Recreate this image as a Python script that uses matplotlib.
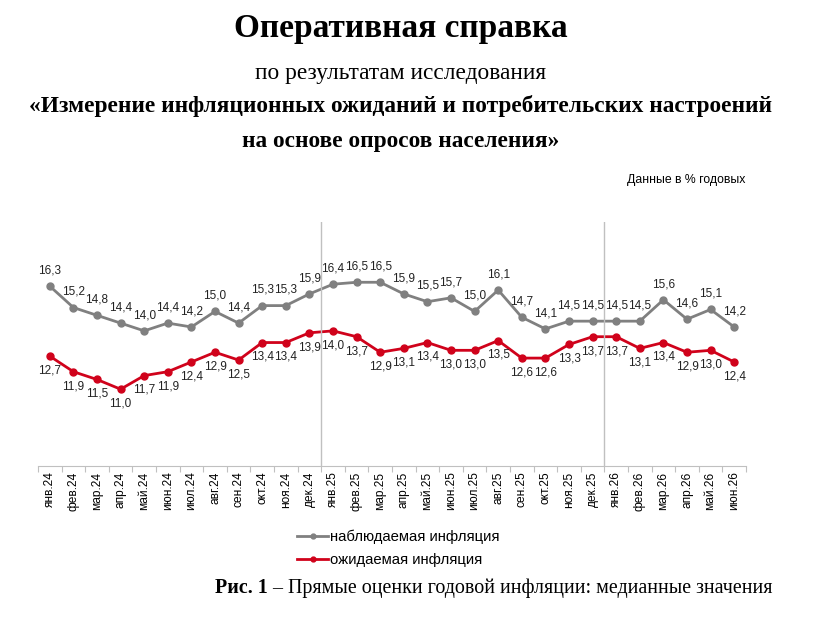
import matplotlib.pyplot as plt
import numpy as np

months = ['янв.24', 'фев.24', 'мар.24', 'апр.24', 'май.24', 'июн.24', 'июл.24', 'авг.24',
          'сен.24', 'окт.24', 'ноя.24', 'дек.24',
          'янв.25', 'фев.25', 'мар.25', 'апр.25', 'май.25', 'июн.25', 'июл.25', 'авг.25',
          'сен.25', 'окт.25', 'ноя.25', 'дек.25',
          'янв.26', 'фев.26', 'мар.26', 'апр.26', 'май.26', 'июн.26']
observed = [16.3, 15.2, 14.8, 14.4, 14.0, 14.4, 14.2, 15.0, 14.4, 15.3, 15.3, 15.9,
            16.4, 16.5, 16.5, 15.9, 15.5, 15.7, 15.0, 16.1, 14.7, 14.1, 14.5, 14.5,
            14.5, 14.5, 15.6, 14.6, 15.1, 14.2]
expected = [12.7, 11.9, 11.5, 11.0, 11.7, 11.9, 12.4, 12.9, 12.5, 13.4, 13.4, 13.9,
            14.0, 13.7, 12.9, 13.1, 13.4, 13.0, 13.0, 13.5, 12.6, 12.6, 13.3, 13.7,
            13.7, 13.1, 13.4, 12.9, 13.0, 12.4]
year_breaks = [11.5, 23.5]

GRAY = '#808080'
RED = '#d0021b'
SANS = 'Liberation Sans'
SERIF = 'Liberation Serif'

fig = plt.figure(figsize=(8.22, 6.23), dpi=100)
ax = fig.add_axes([38 / 822, 157 / 623, 708 / 822, 244 / 623])

x = np.arange(len(months))
ax.plot(x, observed, color=GRAY, lw=2.0, marker='o', ms=5, label='наблюдаемая инфляция')
ax.plot(x, expected, color=RED, lw=2.0, marker='o', ms=5, label='ожидаемая инфляция')

for xi, v in zip(x, observed):
    ax.annotate(f'{v:.1f}'.replace('.', ','), (xi, v), xytext=(0, 7), textcoords='offset points',
                ha='center', va='bottom', fontsize=8.5, family=SANS, color='#222222')
for xi, v in zip(x, expected):
    ax.annotate(f'{v:.1f}'.replace('.', ','), (xi, v), xytext=(0, -6), textcoords='offset points',
                ha='center', va='top', fontsize=8.5, family=SANS, color='#222222')

for b in year_breaks:
    ax.axvline(b, color='#c0c0c0', lw=1)

ax.set_xlim(-0.5, len(months) - 0.5)
ax.set_ylim(7.05, 19.6)
for s in ['top', 'right', 'left']:
    ax.spines[s].set_visible(False)
ax.spines['bottom'].set_color('#c0c0c0')
ax.set_yticks([])
ax.set_xticks(np.arange(len(months) + 1) - 0.5, minor=False)
ax.set_xticklabels([])
ax.tick_params(axis='x', which='major', length=4, color='#c0c0c0')
ax.set_xticks(x, minor=True)
ax.set_xticklabels(months, minor=True, rotation=90, fontsize=8.6, family=SANS)
ax.tick_params(axis='x', which='minor', length=0, pad=4)

ax.legend(loc='upper left', bbox_to_anchor=(253 / 708, -0.235), frameon=False,
          prop={'family': SANS, 'size': 10.7}, handlelength=2.1, handletextpad=0.15,
          labelspacing=0.62, markerscale=0.7, borderaxespad=0)

fig.text(0.487, 1 - 28 / 623, 'Оперативная справка', ha='center', va='center',
         family=SERIF, weight='bold', fontsize=24)
fig.text(0.487, 1 - 73 / 623, 'по результатам исследования', ha='center', va='center',
         family=SERIF, fontsize=16.8)
fig.text(0.487, 1 - 106 / 623, '«Измерение инфляционных ожиданий и потребительских настроений',
         ha='center', va='center', family=SERIF, weight='bold', fontsize=16.8)
fig.text(0.487, 1 - 142 / 623, 'на основе опросов населения»', ha='center', va='center',
         family=SERIF, weight='bold', fontsize=16.8)
fig.text(745 / 822, 1 - 180 / 623, 'Данные в % годовых', ha='right', va='center',
         family=SANS, fontsize=8.8)

cap_y = 1 - 588 / 623
t1 = fig.text(215 / 822, cap_y, 'Рис. 1', ha='left', va='center', family=SERIF,
              weight='bold', fontsize=14.4)
fig.canvas.draw()
bb = t1.get_window_extent()
fig.text(bb.x1 / 822, cap_y, ' – Прямые оценки годовой инфляции: медианные значения',
         ha='left', va='center', family=SERIF, fontsize=14.4)

fig.savefig('out.png', dpi=100)
